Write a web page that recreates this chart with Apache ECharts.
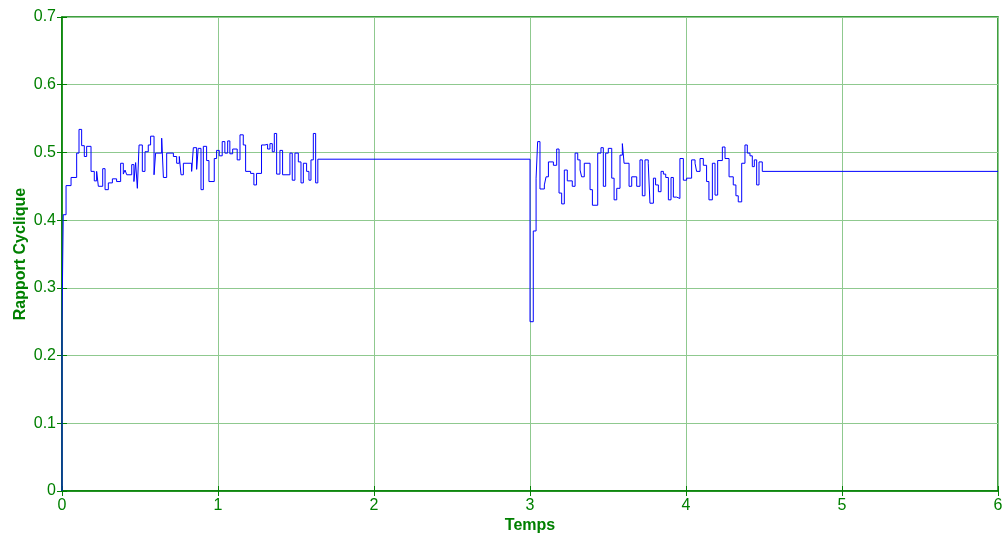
<!DOCTYPE html>
<html>
<head>
<meta charset="utf-8">
<script src="https://cdn.jsdelivr.net/npm/echarts@6/dist/echarts.min.js"></script>
<style>
html,body{margin:0;padding:0;background:#fff;}
#chart{width:1005px;height:534px;}
</style>
</head>
<body>
<div id="chart"></div>
<script>
// Switching instants (s) and duty-cycle values held from each instant (zero-order hold)
const times1 = [0, 0, 0.008, 0.026, 0.058, 0.094, 0.109, 0.126, 0.143, 0.158, 0.186, 0.207, 0.222, 0.233, 0.261, 0.276, 0.297, 0.323, 0.350, 0.376, 0.393, 0.404, 0.415, 0.447, 0.461, 0.472, 0.483, 0.494, 0.515, 0.532, 0.553, 0.568, 0.590, 0.600, 0.639, 0.650, 0.671, 0.714, 0.735, 0.752, 0.763, 0.778, 0.831, 0.842, 0.863, 0.873, 0.891, 0.906, 0.927, 0.942, 0.976, 0.991, 1.008, 1.027, 1.044, 1.062, 1.076, 1.094, 1.123, 1.141, 1.162, 1.177, 1.209, 1.230, 1.247, 1.279, 1.301, 1.318, 1.333, 1.348, 1.361, 1.376, 1.397, 1.414, 1.461, 1.476, 1.493, 1.515, 1.532, 1.547, 1.568, 1.583, 1.596, 1.611, 1.626, 1.640];
const duty1  = [0, 0.25, 0.408, 0.451, 0.463, 0.499, 0.534, 0.510, 0.494, 0.509, 0.472, 0.458, 0.472, 0.450, 0.476, 0.445, 0.455, 0.461, 0.457, 0.484, 0.468, 0.474, 0.467, 0.482, 0.457, 0.485, 0.447, 0.511, 0.472, 0.501, 0.511, 0.524, 0.467, 0.499, 0.521, 0.463, 0.499, 0.494, 0.484, 0.494, 0.467, 0.484, 0.472, 0.507, 0.475, 0.506, 0.445, 0.509, 0.488, 0.457, 0.491, 0.503, 0.495, 0.516, 0.499, 0.517, 0.498, 0.505, 0.489, 0.526, 0.511, 0.472, 0.469, 0.452, 0.469, 0.511, 0.512, 0.505, 0.513, 0.501, 0.528, 0.468, 0.503, 0.467, 0.499, 0.459, 0.499, 0.486, 0.455, 0.484, 0.472, 0.459, 0.489, 0.528, 0.455, 0.490];
const times2 = [3.000, 3.021, 3.039, 3.049, 3.064, 3.092, 3.103, 3.118, 3.150, 3.171, 3.186, 3.203, 3.220, 3.239, 3.271, 3.289, 3.306, 3.321, 3.331, 3.348, 3.385, 3.400, 3.434, 3.455, 3.470, 3.485, 3.502, 3.524, 3.539, 3.556, 3.577, 3.592, 3.603, 3.635, 3.652, 3.684, 3.705, 3.720, 3.737, 3.758, 3.769, 3.791, 3.805, 3.823, 3.840, 3.855, 3.870, 3.887, 3.904, 3.919, 3.940, 3.961, 3.983, 4.004, 4.036, 4.058, 4.068, 4.090, 4.111, 4.132, 4.147, 4.169, 4.186, 4.203, 4.233, 4.250, 4.276, 4.303, 4.320, 4.335, 4.357, 4.378, 4.393, 4.410, 4.425, 4.438, 4.453, 4.468, 4.489, 6.000];
const duty2  = [0.25, 0.384, 0.462, 0.516, 0.446, 0.452, 0.464, 0.486, 0.481, 0.505, 0.440, 0.424, 0.474, 0.458, 0.450, 0.499, 0.489, 0.474, 0.464, 0.484, 0.445, 0.422, 0.499, 0.507, 0.450, 0.499, 0.506, 0.462, 0.430, 0.447, 0.496, 0.513, 0.484, 0.450, 0.464, 0.450, 0.489, 0.436, 0.489, 0.484, 0.425, 0.462, 0.452, 0.442, 0.472, 0.468, 0.463, 0.430, 0.463, 0.434, 0.432, 0.491, 0.459, 0.462, 0.489, 0.484, 0.472, 0.491, 0.481, 0.457, 0.430, 0.484, 0.437, 0.488, 0.508, 0.491, 0.464, 0.452, 0.436, 0.427, 0.484, 0.511, 0.499, 0.495, 0.479, 0.489, 0.452, 0.486, 0.472, 0.472];

const xTicks = [0, 1, 2, 3, 4, 5, 6];
const yTicks = [0, 0.1, 0.2, 0.3, 0.4, 0.5, 0.6, 0.7];

const data = [];
times1.forEach((t, i) => data.push([t, duty1[i]]));
times2.forEach((t, i) => data.push([t, duty2[i]]));

const GREEN = '#008000';
const GRID = '#8fc98f';
const FONT = 'Liberation Sans, Arial, sans-serif';

const chart = echarts.init(document.getElementById('chart'), null, {renderer: 'canvas'});
chart.setOption({
  animation: false,
  backgroundColor: '#ffffff',
  grid: {left: 62, right: 7, top: 17, bottom: 43, show: true, borderColor: GREEN, borderWidth: 1.5,
         containLabel: false, outerBoundsMode: 'none'},
  xAxis: [{
    type: 'value', min: xTicks[0], max: xTicks[xTicks.length - 1], interval: 1,
    name: 'Temps', nameLocation: 'middle', nameGap: 27, nameMoveOverlap: false,
    nameTextStyle: {color: GREEN, fontFamily: FONT, fontSize: 16, fontWeight: 'bold'},
    axisLine: {show: true, lineStyle: {color: GREEN, width: 1.5}},
    axisTick: {show: true, inside: true, length: 5, lineStyle: {color: GREEN}},
    axisLabel: {color: GREEN, fontFamily: FONT, fontSize: 16, margin: 7, formatter: v => String(v)},
    splitLine: {show: true, lineStyle: {color: GRID, width: 1}}
  }, {
    type: 'value', position: 'top', min: 0, max: 6, interval: 1,
    axisLine: {show: false}, axisLabel: {show: false}, splitLine: {show: false},
    axisTick: {show: true, inside: true, length: 5, lineStyle: {color: GREEN}}
  }],
  yAxis: [{
    type: 'value', min: yTicks[0], max: yTicks[yTicks.length - 1], interval: 0.1,
    name: 'Rapport Cyclique', nameLocation: 'middle', nameGap: 33, nameMoveOverlap: false,
    nameTextStyle: {color: GREEN, fontFamily: FONT, fontSize: 16, fontWeight: 'bold'},
    axisLine: {show: true, lineStyle: {color: GREEN, width: 1.5}},
    axisTick: {show: true, inside: true, length: 5, lineStyle: {color: GREEN}},
    axisLabel: {color: GREEN, fontFamily: FONT, fontSize: 16, margin: 6,
      formatter: v => (Math.abs(v) < 1e-9 ? '0' : v.toFixed(1))},
    splitLine: {show: true, lineStyle: {color: GRID, width: 1}}
  }, {
    type: 'value', position: 'right', min: 0, max: 0.7, interval: 0.1,
    axisLine: {show: false}, axisLabel: {show: false}, splitLine: {show: false},
    axisTick: {show: true, inside: true, length: 5, lineStyle: {color: GREEN}}
  }],
  series: [{
    type: 'line', step: 'end', data: data, symbol: 'none',
    lineStyle: {color: '#0000ff', width: 1}, silent: true
  }]
});
</script>
</body>
</html>
